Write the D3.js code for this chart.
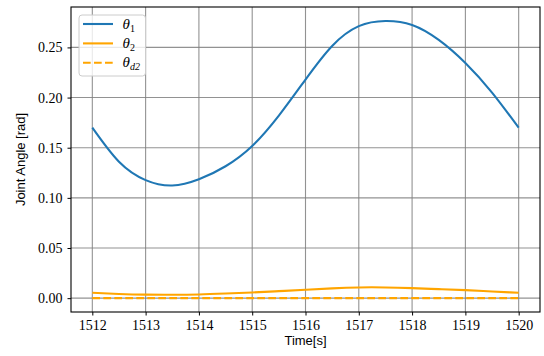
<!DOCTYPE html>
<html><head><meta charset="utf-8">
<script src="https://cdnjs.cloudflare.com/ajax/libs/d3/7.8.5/d3.min.js"></script>
<style>body{margin:0;background:#fff}svg{display:block}
.serif{font-family:"Liberation Serif","DejaVu Serif",serif}
.sans{font-family:"Liberation Sans",Arial,sans-serif}</style>
</head><body><svg id="c" width="544" height="356"></svg>
<script>
const time = [1512,1512.5,1513,1513.5,1514,1514.5,1515,1515.5,1516,1516.5,1517,1517.5,1518,1518.5,1519,1519.5,1520];
const theta1 = [0.170,0.136,0.1177,0.1123,0.1185,0.1315,0.1517,0.182,0.218,0.2515,0.2712,0.2763,0.2724,0.2575,0.2345,0.205,0.170];
const theta2 = [0.0054,0.0042,0.0035,0.0034,0.0037,0.0046,0.0057,0.0070,0.0084,0.0098,0.0107,0.0107,0.0100,0.0090,0.0080,0.0067,0.0054];
const thetaD2 = [0,0,0,0,0,0,0,0,0,0,0,0,0,0,0,0,0];
const xTicks = [1512,1513,1514,1515,1516,1517,1518,1519,1520];
const yTicks = [0.00,0.05,0.10,0.15,0.20,0.25];

const svg = d3.select("#c");
const L=71, R=540, T=7, B=312;
const x = d3.scaleLinear().domain([1511.6,1520.4]).range([L,R]);
const y = d3.scaleLinear().domain([-0.0138,0.2903]).range([B,T]);

// grid
const g = svg.append("g");
g.selectAll("line.vx").data(xTicks).join("line")
  .attr("x1",d=>x(d)).attr("x2",d=>x(d)).attr("y1",T).attr("y2",B)
  .attr("stroke","#808080").attr("stroke-width",1.1).attr("opacity",0.85);
g.selectAll("line.hy").data(yTicks).join("line")
  .attr("y1",d=>y(d)).attr("y2",d=>y(d)).attr("x1",L).attr("x2",R)
  .attr("stroke","#808080").attr("stroke-width",1.1).attr("opacity",0.85);

// lines
const mk = arr => d3.line().x((d,i)=>x(time[i])).y(d=>y(d)).curve(d3.curveNatural)(arr);
svg.append("path").attr("d",mk(theta1)).attr("fill","none").attr("stroke","#1f77b4").attr("stroke-width",2.1);
svg.append("path").attr("d",mk(theta2)).attr("fill","none").attr("stroke","#ffa500").attr("stroke-width",2.1);
svg.append("path").attr("d",mk(thetaD2)).attr("fill","none").attr("stroke","#ffa500").attr("stroke-width",2.1).attr("stroke-dasharray","7.7,3.3");

// axes
const xa = svg.append("g").attr("transform",`translate(0,${B})`)
  .call(d3.axisBottom(x).tickValues(xTicks).tickFormat(d3.format("d")).tickSize(3.5).tickPadding(5));
const ya = svg.append("g").attr("transform",`translate(${L},0)`)
  .call(d3.axisLeft(y).tickValues(yTicks).tickFormat(d3.format(".2f")).tickSize(3.5).tickPadding(5));
[xa,ya].forEach(a=>{
  a.select(".domain").remove();
  a.attr("font-family",null).attr("font-size",null);
  a.selectAll("line").attr("stroke","#000").attr("stroke-width",1);
  a.selectAll("text").attr("class","serif").style("font-size","14px").attr("fill","#000");
});
svg.append("rect").attr("x",L).attr("y",T).attr("width",R-L).attr("height",B-T)
  .attr("fill","none").attr("stroke","#000").attr("stroke-width",1.1);

svg.append("text").attr("class","sans").attr("x",(L+R)/2).attr("y",345).attr("text-anchor","middle")
  .style("font-size","13px").text("Time[s]");
svg.append("text").attr("class","sans").attr("transform",`translate(25,${(T+B)/2}) rotate(-90)`).attr("text-anchor","middle")
  .style("font-size","13px").text("Joint Angle [rad]");

// legend
const lg = svg.append("g");
lg.append("rect").attr("x",79).attr("y",15).attr("width",66.5).attr("height",61).attr("rx",3)
  .attr("fill","#fff").attr("fill-opacity",0.8).attr("stroke","#cccccc").attr("stroke-width",1);
const items = [
  {sub:"1", color:"#1f77b4", dash:null},
  {sub:"2", color:"#ffa500", dash:null},
  {sub:"d2", color:"#ffa500", dash:"7.7,3.3"}
];
items.forEach((it,i)=>{
  const yy = 24 + i*19.4;
  const ln = lg.append("line").attr("x1",83).attr("x2",113).attr("y1",yy).attr("y2",yy)
    .attr("stroke",it.color).attr("stroke-width",2.1);
  if(it.dash) ln.attr("stroke-dasharray",it.dash);
  const t = lg.append("text").attr("class","serif").attr("x",122.5).attr("y",yy+4.5)
    .style("font-size","15px").style("font-style","italic");
  t.append("tspan").text("θ");
  t.append("tspan").style("font-size","10px").attr("dy",3).style("font-style",it.sub==="d2"?"italic":"normal").text(it.sub);
});
</script></body></html>
